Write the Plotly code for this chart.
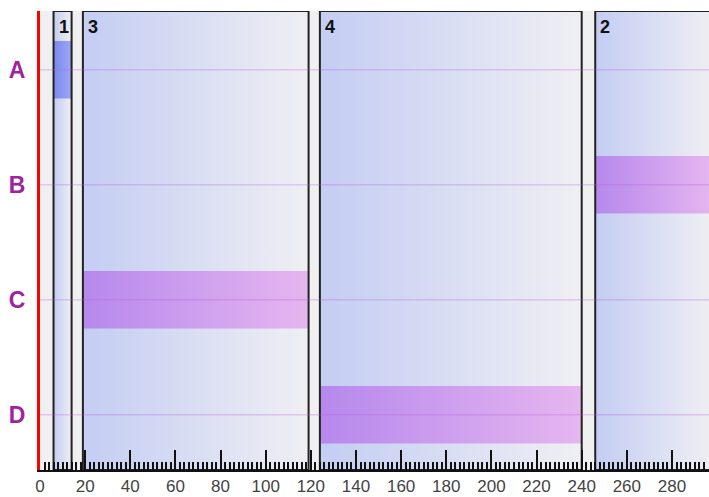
import plotly.graph_objects as go

# Rows of the timeline (top to bottom)
rows = ["A", "B", "C", "D"]

# Tasks: label, row, start, end
task_labels = ["1", "3", "4", "2"]
task_rows = ["A", "C", "D", "B"]
task_start = [6, 19, 124, 246]
task_end = [14, 119, 240, 298]

# Bar colour ramps per task (left -> right)
bar_left = ["rgb(122,136,240)", "rgb(182,136,236)", "rgb(182,136,236)", "rgb(182,136,236)"]
bar_right = ["rgb(158,168,244)", "rgb(230,182,240)", "rgb(230,182,240)", "rgb(230,182,240)"]

# Tick labels on the time axis
x_ticks = list(range(0, 300, 20))

row_pos = {r: i for i, r in enumerate(rows)}
half = 0.25
y_lo, y_hi = -0.51, 3.48

fig = go.Figure()

# Lane boxes with horizontal gradient
for s, e in zip(task_start, task_end):
    fig.add_trace(go.Scatter(
        x=[s, e, e, s, s], y=[y_lo, y_lo, y_hi, y_hi, y_lo],
        mode="none", fill="toself",
        fillgradient=dict(type="horizontal",
                          colorscale=[[0, "rgb(196,205,243)"], [1, "rgb(239,239,243)"]]),
        hoverinfo="skip", showlegend=False,
    ))

# Task bars
for s, e, r, cl, cr in zip(task_start, task_end, task_rows, bar_left, bar_right):
    y = row_pos[r]
    fig.add_trace(go.Scatter(
        x=[s, e, e, s, s], y=[y - half, y - half, y + half, y + half, y - half],
        mode="none", fill="toself",
        fillgradient=dict(type="horizontal", colorscale=[[0, cl], [1, cr]]),
        hoverinfo="skip", showlegend=False,
    ))

# Row guide lines
for r in rows:
    fig.add_shape(type="line", xref="paper", x0=0, x1=1, yref="y",
                  y0=row_pos[r], y1=row_pos[r], layer="above",
                  line=dict(color="rgba(185,90,225,0.28)", width=1.5))

# Lane box outlines
for s, e in zip(task_start, task_end):
    fig.add_trace(go.Scatter(
        x=[s, e, e, s, s], y=[y_lo, y_lo, y_hi, y_hi, y_lo],
        mode="lines", line=dict(color="#222222", width=2),
        hoverinfo="skip", showlegend=False,
    ))

# Lane numbers
for lbl, s in zip(task_labels, task_start):
    fig.add_annotation(x=s, y=1, xref="x", yref="paper", text=lbl,
                       showarrow=False, xanchor="left", yanchor="top",
                       xshift=3, yshift=-4,
                       font=dict(family="Liberation Sans, Arial", size=18,
                                 color="#111111", weight="bold"))

fig.update_layout(
    width=709, height=497,
    margin=dict(l=40, r=0, t=11, b=27),
    paper_bgcolor="white", plot_bgcolor="rgb(240,240,240)",
    font=dict(family="Liberation Sans, Arial"),
    xaxis=dict(
        range=[0, 296.4], showgrid=False, zeroline=False, automargin=False,
        tickvals=x_ticks, ticks="inside", ticklen=20, tickwidth=1.5, tickcolor="#111",
        minor=dict(ticks="inside", dtick=2, tick0=0, ticklen=8, tickwidth=1.5, tickcolor="#111"),
        showline=True, linecolor="#111", linewidth=2,
        tickfont=dict(size=17, color="#444444"),
        ticklabelstandoff=0,
        layer="above traces",
    ),
    yaxis=dict(
        range=[y_hi, y_lo], showgrid=False, zeroline=False, automargin=False,
        tickvals=[row_pos[r] for r in rows], ticktext=rows,
        ticks="", ticklabelstandoff=7,
        showline=True, linecolor="#ff0000", linewidth=3,
        tickfont=dict(size=23, color="#a0229e", weight="bold"),
    ),
)

fig.write_html("out.html")
